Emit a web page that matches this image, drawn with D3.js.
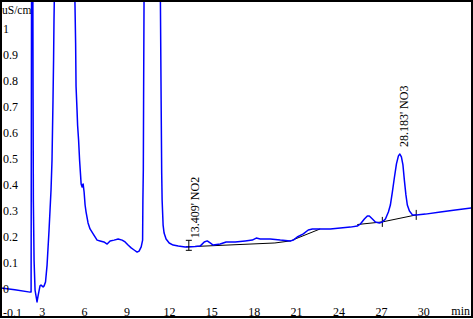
<!DOCTYPE html>
<html><head><meta charset="utf-8">
<script src="https://cdn.jsdelivr.net/npm/d3@7"></script>
<style>
html,body{margin:0;padding:0;background:#fff;}
svg{display:block;}
text{font-family:"Liberation Serif","Times New Roman",serif;font-size:12px;fill:#000;}
</style>
</head><body>
<svg id="c" width="473" height="319"></svg>
<script>
// ---- data ----
const timeMin = [0,1.1,2.17,2.25,2.32,2.39,2.41,2.46,2.53,2.67,2.74,2.88,2.95,3.1,3.17,3.27,3.38,3.52,3.59,3.66,3.73,3.8,3.84,3.87,4.6,5.35,5.4,5.43,5.5,5.54,5.61,5.68,5.75,5.79,5.86,5.93,6.0,6.07,6.14,6.28,6.42,6.64,6.92,7.13,7.4,7.63,7.84,8.12,8.41,8.69,8.9,9.11,9.33,9.54,9.75,9.89,10.04,10.14,10.16,10.19,10.21,10.24,10.8,11.4,11.45,11.49,11.52,11.59,11.66,11.8,12.02,12.3,12.66,13.15,13.86,14.21,14.5,14.71,14.92,15.13,15.63,16.05,16.69,17.4,17.9,18.18,18.46,19.17,19.88,20.59,20.8,21.08,21.51,21.86,22.15,23.42,24.13,24.84,25.33,25.55,25.83,26.04,26.18,26.4,26.61,26.89,27.1,27.32,27.53,27.67,27.81,27.95,28.1,28.24,28.34,28.45,28.56,28.66,28.77,28.87,29.02,29.23,29.51,30.15,31.21,32.27,33.41];
const conductance = [0.005,-0.003,-0.012,-0.012,2.6,0.73,0.34,0.11,-0.004,-0.05,-0.027,0.012,0.015,0.008,0.012,0.027,0.092,0.227,0.304,0.381,0.496,0.727,0.88,1.035,3.6,1.11,0.946,0.78,0.688,0.63,0.573,0.496,0.438,0.404,0.392,0.404,0.373,0.323,0.296,0.254,0.231,0.212,0.188,0.185,0.181,0.173,0.185,0.188,0.192,0.188,0.181,0.169,0.158,0.15,0.142,0.146,0.162,0.188,0.342,0.458,0.727,1.1,4.2,1.1,0.727,0.446,0.342,0.246,0.215,0.192,0.177,0.169,0.165,0.162,0.163,0.165,0.181,0.185,0.177,0.169,0.173,0.181,0.181,0.185,0.188,0.196,0.192,0.192,0.188,0.185,0.188,0.2,0.212,0.227,0.231,0.231,0.235,0.238,0.242,0.25,0.269,0.281,0.281,0.269,0.258,0.254,0.258,0.269,0.296,0.323,0.373,0.427,0.481,0.512,0.519,0.508,0.477,0.419,0.362,0.323,0.3,0.285,0.285,0.288,0.296,0.304,0.312];

// integration baselines
const baseNO2Time = [13.2,19.5,20.6,22.7];
const baseNO2Value = [0.162,0.177,0.185,0.231];
const baseSmallTime = [25.33,27.1];
const baseSmallValue = [0.248,0.258];
const baseNO3Time = [27.1,29.5];
const baseNO3Value = [0.258,0.285];

// peak annotations
const peakNames = ["13.409' NO2","28.183' NO3"];
const peakTimes = [13.409,28.183];
const peakHeights = [0.168,0.519];

// axes ticks
const xTicks = [3,6,9,12,15,18,21,24,27,30];
const xTickLabels = ["3","6","9","12","15","18","21","24","27","30"];
const yTicks = [-0.1,0,0.1,0.2,0.3,0.4,0.5,0.6,0.7,0.8,0.9,1];
const yTickLabels = ["-0.1","0","0.1","0.2","0.3","0.4","0.5","0.6","0.7","0.8","0.9","1"];
const yUnit = "uS/cm";
const xUnit = "min";

// ---- drawing ----
const svg = d3.select("#c");
const x = d3.scaleLinear().domain([3,30]).range([41.7,423.3]);
const y = d3.scaleLinear().domain([0,1]).range([289,29]);

svg.append("defs").append("clipPath").attr("id","clip")
  .append("rect").attr("x",1).attr("y",1).attr("width",470).attr("height",316);

const line = d3.line().x(d=>x(d[0])).y(d=>y(d[1]));
const plot = svg.append("g").attr("clip-path","url(#clip)");

// baselines
[[baseNO2Time,baseNO2Value],[baseSmallTime,baseSmallValue],[baseNO3Time,baseNO3Value]].forEach(([ts,vs])=>{
  plot.append("path").datum(ts.map((t,i)=>[t,vs[i]])).attr("d",line)
    .attr("fill","none").attr("stroke","#000").attr("stroke-width",1);
});
// baseline ticks
[[27.1,0.258],[29.5,0.285]].forEach(p=>{
  plot.append("line").attr("x1",x(p[0])).attr("x2",x(p[0]))
    .attr("y1",y(p[1])-5).attr("y2",y(p[1])+5).attr("stroke","#000");
});

// trace
plot.append("path").datum(timeMin.map((t,i)=>[t,conductance[i]])).attr("d",line)
  .attr("fill","none").attr("stroke","#0000ff").attr("stroke-width",1.5).attr("stroke-linejoin","round");

// NO2 marker
{
  const mx = x(peakTimes[0]), my = y(peakHeights[0]);
  const g = plot.append("g").attr("stroke","#000");
  g.append("line").attr("x1",mx).attr("x2",mx).attr("y1",my-5).attr("y2",my+5);
  g.append("line").attr("x1",mx-3).attr("x2",mx+3).attr("y1",my-5).attr("y2",my-5);
  g.append("line").attr("x1",mx-3).attr("x2",mx+3).attr("y1",my+5).attr("y2",my+5);
}

// peak labels
peakNames.forEach((name,i)=>{
  const tx = x(peakTimes[i])+10, ty = y(peakHeights[i])-7;
  svg.append("text").attr("transform",`translate(${tx},${ty}) rotate(-90)`)
    .attr("text-anchor","start").text(name);
});

// y axis
const ya = svg.append("g").attr("transform","translate(0,0)")
  .call(d3.axisRight(y).tickValues(yTicks).tickSize(2).tickPadding(1)
    .tickFormat((d,i)=>yTickLabels[i]));
ya.select(".domain").remove();
ya.selectAll("text").style("font-family",'"Liberation Serif",serif').style("font-size","12px").attr("fill","#000");
ya.selectAll("line").attr("stroke","#000");
ya.selectAll(".tick").filter(d=>d<0).select("text").attr("y",-2.5);

// x axis
const xa = svg.append("g").attr("transform","translate(0,317)")
  .call(d3.axisTop(x).tickValues(xTicks).tickSize(0).tickPadding(1)
    .tickFormat((d,i)=>xTickLabels[i]));
xa.select(".domain").remove();
xa.selectAll("text").style("font-family",'"Liberation Serif",serif').style("font-size","12px").attr("fill","#000");

// units
svg.append("text").attr("x",2).attr("y",14).style("font-size","11.5px").text(yUnit);
svg.append("text").attr("x",470).attr("y",315).attr("text-anchor","end").text(xUnit);

// frame
svg.append("rect").attr("x",1).attr("y",1).attr("width",471).attr("height",316)
  .attr("fill","none").attr("stroke","#000").attr("stroke-width",2);
</script>
</body></html>
